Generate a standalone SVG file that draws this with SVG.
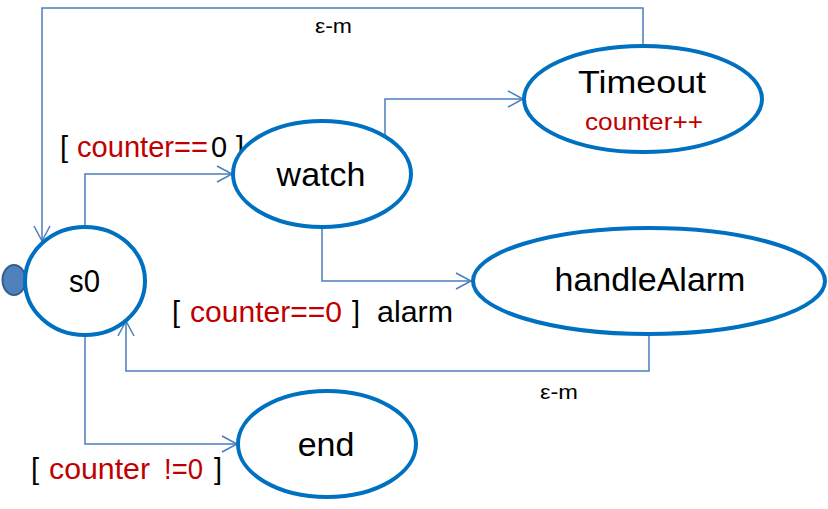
<svg xmlns="http://www.w3.org/2000/svg" width="828" height="509" viewBox="0 0 828 509">
<style>
.st{fill:#fff;stroke:#0070c0;stroke-width:4}
.cn{fill:none;stroke:#4a7ebb;stroke-width:1.5}
.t{font-family:"Liberation Sans",Arial,sans-serif;fill:#000}
.r{fill:#c00000}
</style>
<defs>
<marker id="arr" markerUnits="userSpaceOnUse" viewBox="-16 -9 18 18" refX="0" refY="0" markerWidth="18" markerHeight="18" orient="auto">
<path d="M-15,-8 L0,0 L-15,8" fill="none" stroke="#4a7ebb" stroke-width="1.5"/>
</marker>
</defs>
<g id="connectors">
<path class="cn" d="M643,46 V8 H42 V241" marker-end="url(#arr)"/>
<path class="cn" d="M85,227 V174 H232" marker-end="url(#arr)"/>
<path class="cn" d="M385,137 V99 H523" marker-end="url(#arr)"/>
<path class="cn" d="M322,228 V281 H471" marker-end="url(#arr)"/>
<path class="cn" d="M649,335 V371 H126 V321" marker-end="url(#arr)"/>
<path class="cn" d="M85,335 V444 H237" marker-end="url(#arr)"/>
<text class="t" x="315" y="33" font-size="21" textLength="37" lengthAdjust="spacingAndGlyphs">ε-m</text>
<text class="t" x="540" y="399" font-size="21" textLength="38" lengthAdjust="spacingAndGlyphs">ε-m</text>
<text class="t" font-size="29" y="157"><tspan x="60">[</tspan><tspan class="r" x="77" textLength="131" lengthAdjust="spacingAndGlyphs">counter==</tspan><tspan x="211">0</tspan><tspan x="236">]</tspan></text>
<text class="t" font-size="29" y="322"><tspan x="172">[</tspan><tspan class="r" x="190" textLength="152" lengthAdjust="spacingAndGlyphs">counter==0</tspan><tspan x="352">]</tspan><tspan x="377" textLength="76" lengthAdjust="spacingAndGlyphs">alarm</tspan></text>
<text class="t" font-size="29" y="479"><tspan x="31">[</tspan><tspan class="r" x="49" textLength="101" lengthAdjust="spacingAndGlyphs">counter</tspan><tspan class="r" x="164" textLength="39" lengthAdjust="spacingAndGlyphs">!=0</tspan><tspan x="214">]</tspan></text>
</g>
<g id="init">
<ellipse cx="14" cy="280" rx="11.5" ry="15" fill="#4f81bd" stroke="#385d8a" stroke-width="2"/>
</g>
<g id="s0">
<ellipse class="st" cx="85" cy="281" rx="60" ry="54"/>
<text class="t" x="69" y="292" font-size="31" textLength="31" lengthAdjust="spacingAndGlyphs">s0</text>
</g>
<g id="watch">
<ellipse class="st" cx="322" cy="174" rx="89" ry="53"/>
<text class="t" x="321" y="186" font-size="34" text-anchor="middle">watch</text>
</g>
<g id="Timeout">
<ellipse class="st" cx="643" cy="99" rx="119" ry="53"/>
<text class="t" x="578" y="93" font-size="31" textLength="128" lengthAdjust="spacingAndGlyphs">Timeout</text>
<text class="t r" x="585" y="130" font-size="23" textLength="118" lengthAdjust="spacingAndGlyphs">counter++</text>
</g>
<g id="handleAlarm">
<ellipse class="st" cx="649" cy="281" rx="176" ry="53"/>
<text class="t" x="650" y="291" font-size="34" text-anchor="middle">handleAlarm</text>
</g>
<g id="end">
<ellipse class="st" cx="327" cy="444" rx="89" ry="53"/>
<text class="t" x="326" y="456" font-size="34" text-anchor="middle">end</text>
</g>
</svg>
